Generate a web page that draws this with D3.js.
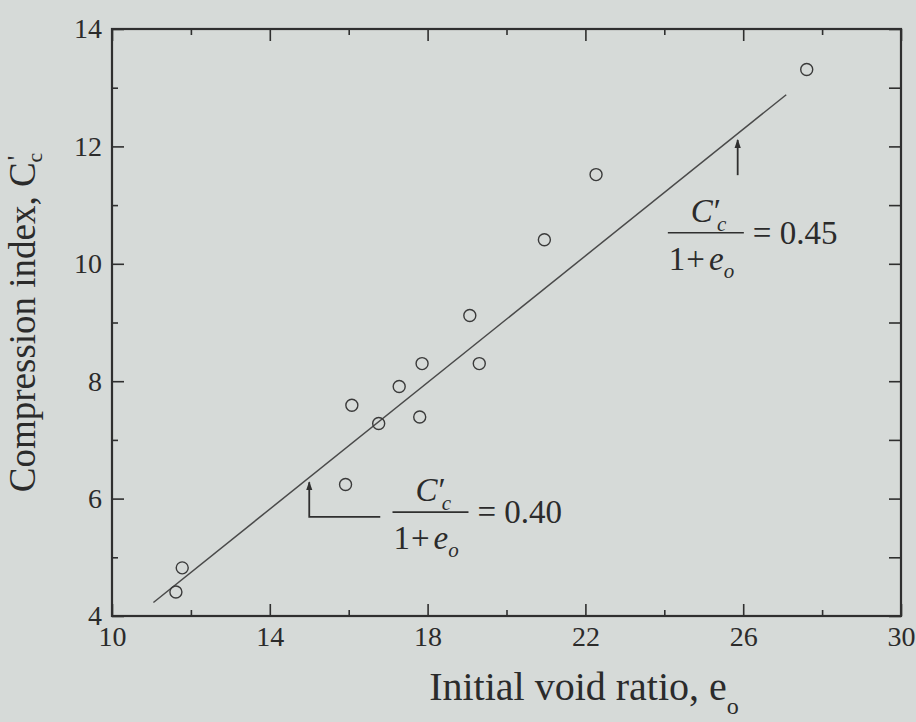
<!DOCTYPE html>
<html>
<head>
<meta charset="utf-8">
<script src="https://cdn.jsdelivr.net/npm/d3@7"></script>
<style>
  html, body { margin: 0; padding: 0; background: #d6dad8; }
  svg { display: block; }
  text { font-family: "Liberation Serif", "Times New Roman", serif; fill: #2b2b2b; }
</style>
</head>
<body>
<svg id="chart" width="916" height="722"></svg>
<script>
// Initial void ratio (e_o) and compression index (C'c) of the tested samples
const voidRatio = [11.62, 11.78, 15.92, 16.08, 16.76, 17.28, 17.80, 17.86, 19.07, 19.31, 20.96, 22.27, 27.61];
const compIndex = [4.41, 4.82, 6.24, 7.59, 7.28, 7.91, 7.39, 8.30, 9.12, 8.30, 10.41, 11.52, 13.31];

// Best-fit line end points
const fitVoid = [11.05, 27.09];
const fitComp = [4.23, 12.88];

// Tick values
const xMajor = [10, 14, 18, 22, 26, 30];
const xMinor = [12, 16, 20, 24, 28];
const yMajor = [4, 6, 8, 10, 12, 14];
const yMinor = [5, 7, 9, 11, 13];

// Ratio callouts: arrow at e_o = ax from C'c y0 up to y1, optional horizontal leg to hx,
// fraction bar starting at (fx, fy) in data units
const callouts = [
  { ratio: "0.40", ax: 15.0, y0: 5.69, y1: 6.28, hx: 16.8, fx: 17.11, fy: 5.77 },
  { ratio: "0.45", ax: 25.86, y0: 11.51, y1: 12.11, hx: null, fx: 24.09, fy: 10.53 }
];

const svg = d3.select("#chart");
const ink = "#2f2f2f";

const x = d3.scaleLinear().domain([10, 30]).range([112, 901]);
const y = d3.scaleLinear().domain([4, 14]).range([616, 29]);

const defs = svg.append("defs");
defs.append("marker")
  .attr("id", "head")
  .attr("viewBox", "0 0 10 10")
  .attr("refX", 9).attr("refY", 5)
  .attr("markerWidth", 5).attr("markerHeight", 6)
  .attr("orient", "auto")
  .append("path").attr("d", "M0,1.5 L10,5 L0,8.5 Z").attr("fill", ink);

function styleAxis(g, showLabels) {
  g.select(".domain").remove();
  g.selectAll(".tick line").attr("stroke", ink).attr("stroke-width", 1.6);
  if (showLabels) g.selectAll(".tick text").attr("font-size", 28).attr("fill", "#2b2b2b");
}

// bottom axis
svg.append("g").attr("transform", `translate(0,${y(4)})`)
  .call(d3.axisBottom(x).tickValues(xMinor).tickSize(-6).tickFormat(""))
  .call(g => styleAxis(g, false));
svg.append("g").attr("transform", `translate(0,${y(4)})`)
  .call(d3.axisBottom(x).tickValues(xMajor).tickSize(-12).tickPadding(10).tickFormat(d3.format("d")))
  .call(g => styleAxis(g, true));

// top axis
svg.append("g").attr("transform", `translate(0,${y(14)})`)
  .call(d3.axisTop(x).tickValues(xMinor).tickSize(-6).tickFormat(""))
  .call(g => styleAxis(g, false));
svg.append("g").attr("transform", `translate(0,${y(14)})`)
  .call(d3.axisTop(x).tickValues(xMajor).tickSize(-12).tickFormat(""))
  .call(g => styleAxis(g, false));

// left axis
svg.append("g").attr("transform", `translate(${x(10)},0)`)
  .call(d3.axisLeft(y).tickValues(yMinor).tickSize(-6).tickFormat(""))
  .call(g => styleAxis(g, false));
svg.append("g").attr("transform", `translate(${x(10)},0)`)
  .call(d3.axisLeft(y).tickValues(yMajor).tickSize(-12).tickPadding(10).tickFormat(d3.format("d")))
  .call(g => styleAxis(g, true));

// right axis
svg.append("g").attr("transform", `translate(${x(30)},0)`)
  .call(d3.axisRight(y).tickValues(yMinor).tickSize(-12).tickFormat(""))
  .call(g => styleAxis(g, false));
svg.append("g").attr("transform", `translate(${x(30)},0)`)
  .call(d3.axisRight(y).tickValues(yMajor).tickSize(-12).tickFormat(""))
  .call(g => styleAxis(g, false));

// frame
svg.append("rect")
  .attr("x", x(10)).attr("y", y(14))
  .attr("width", x(30) - x(10)).attr("height", y(4) - y(14))
  .attr("fill", "none").attr("stroke", ink).attr("stroke-width", 2.2);

// fit line
svg.append("line")
  .attr("x1", x(fitVoid[0])).attr("y1", y(fitComp[0]))
  .attr("x2", x(fitVoid[1])).attr("y2", y(fitComp[1]))
  .attr("stroke", "#4a4a4a").attr("stroke-width", 1.5);

// data points
svg.append("g").selectAll("circle")
  .data(voidRatio.map((v, i) => [v, compIndex[i]]))
  .join("circle")
  .attr("cx", d => x(d[0])).attr("cy", d => y(d[1]))
  .attr("r", 6)
  .attr("fill", "none").attr("stroke", "#3a3a3a").attr("stroke-width", 1.4);

// callouts: arrow plus C'c / (1 + e_o) = ratio
callouts.forEach(c => {
  const ax = x(c.ax);
  const p = [[ax, y(c.y0)]];
  if (c.hx != null) p.unshift([x(c.hx), y(c.y0)]);
  p.push([ax, y(c.y1)]);
  svg.append("path")
    .attr("d", d3.line()(p))
    .attr("fill", "none").attr("stroke", ink).attr("stroke-width", 1.8)
    .attr("marker-end", "url(#head)");

  const g = svg.append("g").attr("transform", `translate(${x(c.fx)},${y(c.fy)})`);
  g.append("line").attr("x1", 0).attr("x2", 76).attr("y1", 0).attr("y2", 0)
    .attr("stroke", ink).attr("stroke-width", 1.6);

  const num = g.append("text").attr("x", 23).attr("y", -11).attr("font-size", 33);
  num.append("tspan").attr("font-style", "italic").text("C");
  num.append("tspan").attr("dx", 1).text("′");
  num.append("tspan").attr("font-style", "italic").attr("font-size", 21)
    .attr("dx", -4).attr("dy", 9).text("c");

  const den = g.append("text").attr("x", 1).attr("y", 37).attr("font-size", 33);
  den.append("tspan").text("1");
  den.append("tspan").attr("dx", 1).text("+");
  den.append("tspan").attr("dx", 4).attr("font-style", "italic").text("e");
  den.append("tspan").attr("font-style", "italic").attr("font-size", 21).attr("dy", 8).text("o");

  g.append("text").attr("x", 85).attr("y", 11).attr("font-size", 33).text("= " + c.ratio);
});

// axis titles
const xt = svg.append("text")
  .attr("x", 584).attr("y", 700)
  .attr("text-anchor", "middle").attr("font-size", 40);
xt.append("tspan").text("Initial void ratio, e");
xt.append("tspan").attr("font-size", 24).attr("dy", 14).text("o");

const yt = svg.append("text")
  .attr("transform", `translate(35,${(y(4) + y(14)) / 2}) rotate(-90)`)
  .attr("text-anchor", "middle").attr("font-size", 37);
yt.append("tspan").text("Compression index, C");
yt.append("tspan").attr("font-size", 26).attr("dx", 2).attr("dy", -10).text("'");
yt.append("tspan").attr("font-size", 22).attr("dx", -7).attr("dy", 17).text("c");
</script>
</body>
</html>
